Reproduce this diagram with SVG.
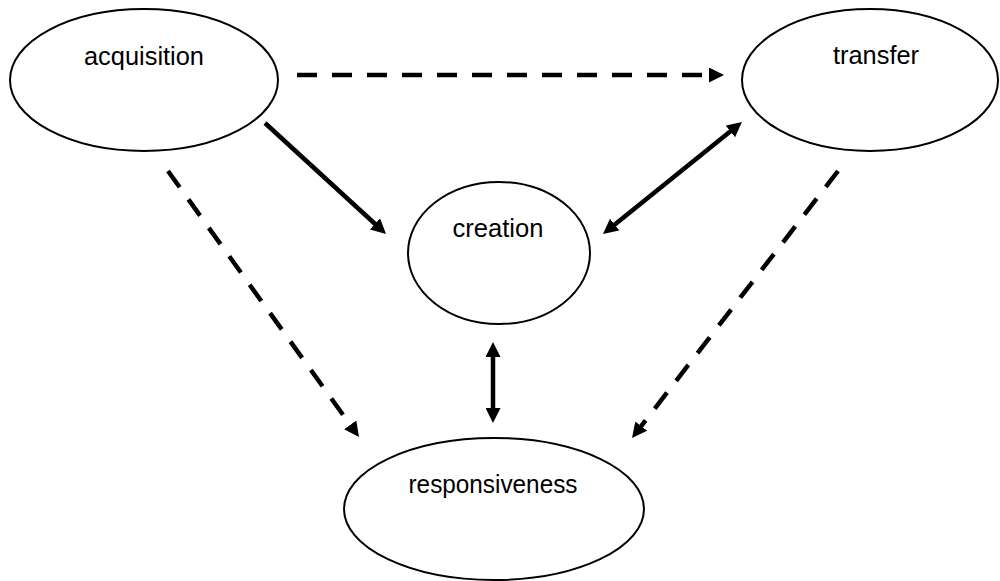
<svg xmlns="http://www.w3.org/2000/svg" width="1000" height="581" viewBox="0 0 1000 581">
<style>
.node ellipse{fill:#fff;stroke:#000;stroke-width:2}
.node text{font-family:"Liberation Sans",Arial,sans-serif;font-size:26px;fill:#000;text-anchor:middle}
.conn line{stroke:#000;stroke-width:4.5;fill:none}
.dash{stroke-dasharray:20 15}
</style>
<defs>
<marker id="ah" viewBox="0 -7.5 15 15" markerWidth="15" markerHeight="15" refX="1" refY="0" markerUnits="userSpaceOnUse" orient="auto-start-reverse">
<path d="M0,-7.5 L15,0 L0,7.5 z" fill="#000"/>
</marker>
</defs>
<g id="acquisition" class="node"><ellipse cx="144" cy="80" rx="134" ry="71"/><text x="144" y="65" textLength="120" lengthAdjust="spacingAndGlyphs">acquisition</text></g>
<g id="transfer" class="node"><ellipse cx="870" cy="80" rx="128" ry="71"/><text x="876" y="64" textLength="86" lengthAdjust="spacingAndGlyphs">transfer</text></g>
<g id="creation" class="node"><ellipse cx="499" cy="253" rx="91" ry="71"/><text x="498" y="237" textLength="91" lengthAdjust="spacingAndGlyphs">creation</text></g>
<g id="responsiveness" class="node"><ellipse cx="494" cy="509" rx="150" ry="71"/><text x="493" y="493" textLength="169" lengthAdjust="spacingAndGlyphs">responsiveness</text></g>
<g id="connectors" class="conn">
<line class="dash" x1="297" y1="75" x2="710" y2="75" marker-end="url(#ah)"/>
<line x1="265" y1="123" x2="375.7" y2="224.5" marker-end="url(#ah)"/>
<line class="dash" x1="168" y1="171" x2="350.8" y2="425.6" marker-end="url(#ah)"/>
<line x1="613.9" y1="225.2" x2="731.1" y2="130.8" marker-start="url(#ah)" marker-end="url(#ah)"/>
<line class="dash" x1="838" y1="171" x2="640.6" y2="426.9" marker-end="url(#ah)"/>
<line x1="493" y1="356" x2="493" y2="409" marker-start="url(#ah)" marker-end="url(#ah)"/>
</g>
</svg>
